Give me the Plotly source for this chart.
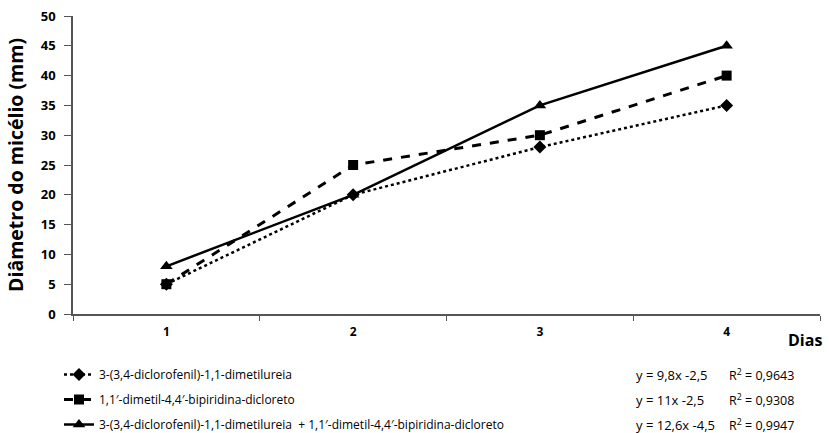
import plotly.graph_objects as go

dias = [1, 2, 3, 4]
serie_diuron = [5, 20, 28, 35]
serie_paraquat = [5, 25, 30, 40]
serie_mistura = [8, 20, 35, 45]
nomes = [
    "3-(3,4-diclorofenil)-1,1-dimetilureia",
    "1,1\u2032-dimetil-4,4\u2032-bipiridina-dicloreto",
    "3-(3,4-diclorofenil)-1,1-dimetilureia  + 1,1\u2032-dimetil-4,4\u2032-bipiridina-dicloreto",
]
equacoes = ["y = 9,8x -2,5", "y = 11x -2,5", "y = 12,6x -4,5"]
r2 = ["R<sup>2</sup> = 0,9643", "R<sup>2</sup> = 0,9308", "R<sup>2</sup> = 0,9947"]
y_ticks = [0, 5, 10, 15, 20, 25, 30, 35, 40, 45, 50]

FONT = "Open Sans"
L, R, T, B = 73, 9, 16, 119
W, H = 829, 433
PW, PH = W - L - R, H - T - B


def px(xp):
    return (xp - L) / PW


def py(yp):
    return (H - B - yp) / PH


fig = go.Figure()
styles = [
    dict(dash="dot", width=2.5, symbol="diamond", size=10),
    dict(dash="dash", width=3, symbol="square", size=10),
    dict(dash="solid", width=2.5, symbol="triangle-up", size=11),
]
for i, (vals, nome, st) in enumerate(zip([serie_diuron, serie_paraquat, serie_mistura], nomes, styles)):
    fig.add_trace(go.Scatter(
        x=dias, y=vals, name=nome, mode="lines+markers", legendgroup=f"g{i}",
        line=dict(color="black", dash=st["dash"], width=st["width"]),
        marker=dict(color="black", symbol=st["symbol"], size=st["size"]),
    ))

for i, (eq, r) in enumerate(zip(equacoes, r2)):
    yy = py(375 + 25 * i)
    fig.add_annotation(
        xref="paper", yref="paper", x=px(634), y=yy,
        xanchor="left", yanchor="middle", text=eq, showarrow=False,
        font=dict(family=FONT, size=13, color="black"),
    )
    fig.add_annotation(
        xref="paper", yref="paper", x=px(727), y=yy,
        xanchor="left", yanchor="middle", text=r, showarrow=False,
        font=dict(family=FONT, size=12.5, color="black"),
    )

fig.add_annotation(
    xref="paper", yref="paper", x=px(805), y=py(340),
    xanchor="center", yanchor="middle", text="<b>Dias</b>", showarrow=False,
    font=dict(family=FONT, size=16, color="black"),
)

fig.update_layout(
    width=W, height=H,
    margin=dict(l=L, r=R, t=T, b=B, autoexpand=False),
    paper_bgcolor="white", plot_bgcolor="white",
    font=dict(family=FONT, color="black"),
    showlegend=True,
    legend=dict(
        x=px(59), y=py(360), xanchor="left", yanchor="top",
        font=dict(family=FONT, size=12, color="black"),
        tracegroupgap=6, bgcolor="rgba(0,0,0,0)",
    ),
    xaxis=dict(
        range=[0.5, 4.5], tickvals=dias, ticktext=[f"<b>{d}</b>" for d in dias],
        ticks="", showgrid=False, zeroline=False, ticklabelstandoff=6,
        showline=True, linecolor="#555", linewidth=1.5,
        tickfont=dict(family=FONT, size=12, color="black"),
        minor=dict(tick0=0.5, dtick=1, ticks="outside", ticklen=5, tickcolor="#555", showgrid=False),
    ),
    yaxis=dict(
        range=[0, 50], tickvals=y_ticks, ticktext=[f"<b>{v}</b>" for v in y_ticks],
        ticks="outside", ticklen=7, tickcolor="#555", ticklabelstandoff=6,
        showgrid=False, zeroline=False,
        showline=True, linecolor="#555", linewidth=1.5,
        tickfont=dict(family=FONT, size=13, color="black"),
        title=dict(text="<b>Diâmetro do micélio (mm)</b>", font=dict(family=FONT, size=19.5, color="black"), standoff=12),
    ),
)

fig.write_html("out.html", post_script="document.body.style.margin='0';",
               config={"displayModeBar": False})
